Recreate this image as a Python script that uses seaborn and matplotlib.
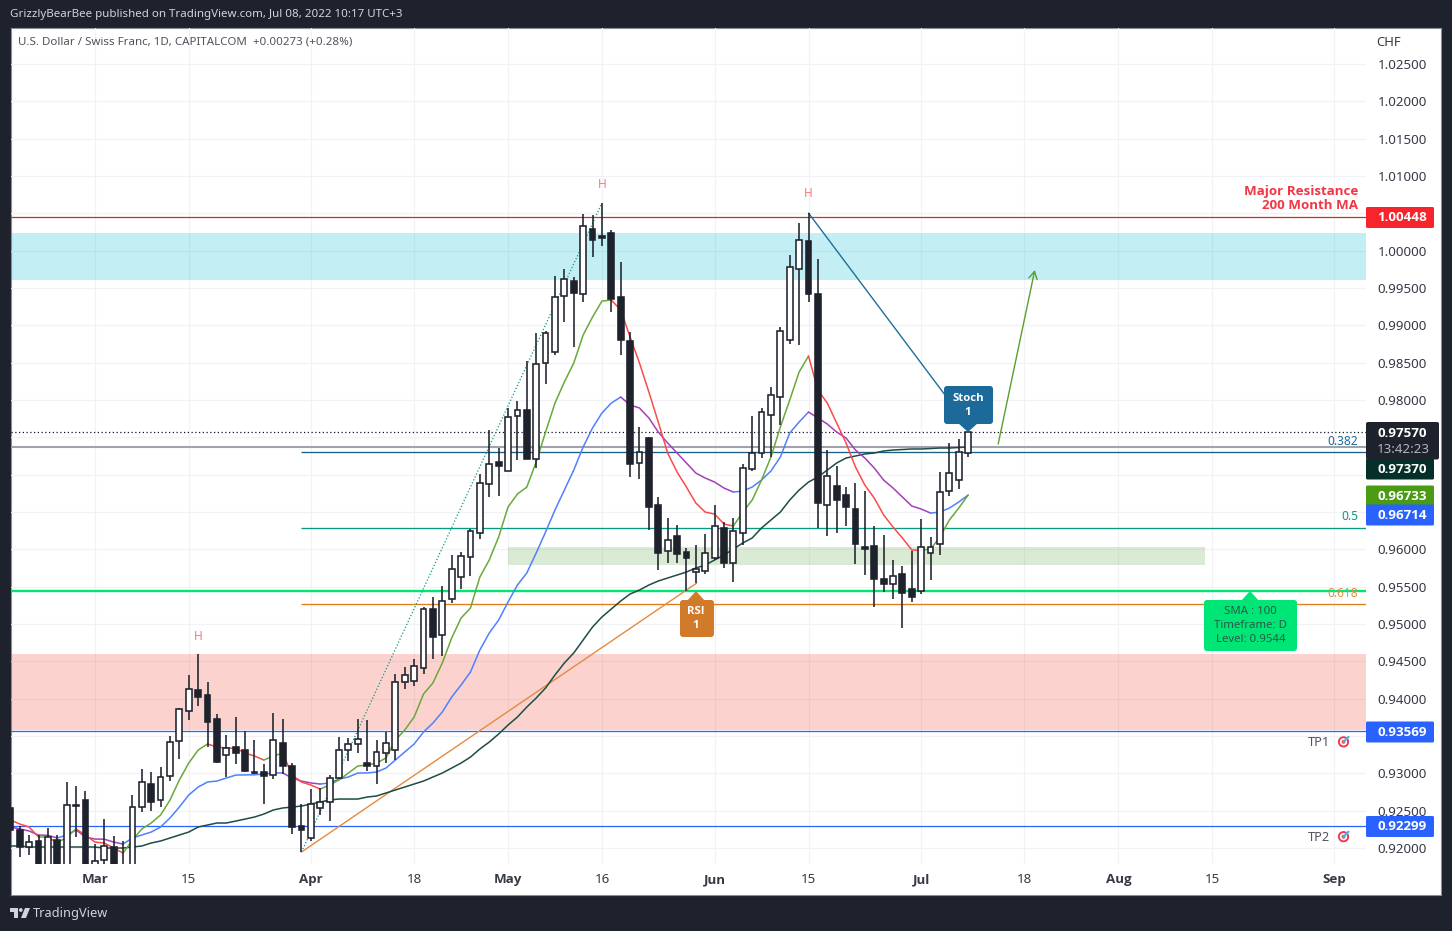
import numpy as np
import pandas as pd
import seaborn as sns
import matplotlib
matplotlib.use("Agg")
import matplotlib.pyplot as plt
from matplotlib import font_manager
from matplotlib.patches import FancyBboxPatch, Polygon, Circle

# ---------- DATA ----------
first_bar = -9
opens = [.92535,.92241,.92009,.92094,.9165,.92107,.9150,.92562,.92643,.9165,.91839,.92013,.9175,.9170,.92545,.92857,.92643,.92964,.93433,.93834,.94116,.94049,.93727,.93241,.93357,.93312,.93024,.93018,.92978,.93406,.93098,.92295,.92134,.92536,.92616,.92937,.93312,.93393,.93138,.93098,.93272,.93312,.94223,.94236,.94411,.95201,.94853,.95331,.95629,.95897,.96219,.96871,.97170,.97045,.97785,.97866,.97210,.98495,.98643,.99393,.99594,.99419,1.00290,1.00196,1.00236,.99379,.98790,.97156,.97491,.96593,.95978,.96178,.95964,.95696,.95709,.95884,.96286,.95817,.96219,.97076,.97290,.97799,.98040,.98803,.99754,1.00130,.99419,.96593,.96848,.96728,.96540,.96031,.96045,.95603,.95531,.95670,.95469,.95442,.95951,.96071,.96781,.96928,.97290]
highs = [.92643,.92295,.92174,.92174,.92268,.92174,.92884,.92830,.92763,.92053,.92388,.92161,.92094,.92710,.93058,.93018,.93085,.93500,.93870,.94317,.94598,.94223,.93795,.93513,.93754,.93567,.93446,.93125,.93808,.93727,.93138,.92589,.92790,.92804,.92977,.93487,.93473,.93727,.93714,.93446,.93553,.94330,.94424,.94531,.95228,.95361,.95509,.95924,.95964,.96272,.97009,.97598,.97357,.97893,.97987,.98522,.98897,.98924,.99661,.99754,.99647,1.00491,1.00478,1.00638,1.00277,.99848,.98911,.97638,.97508,.96701,.96420,.96326,.96018,.96058,.96205,.96594,.96366,.96420,.97143,.97786,.97893,.98178,.98977,.99942,1.00370,1.00504,.99888,.97330,.97120,.96839,.96888,.96781,.96312,.96192,.95857,.95777,.95981,.96406,.96165,.97036,.97424,.97477,.97570]
lows = [.92174,.91883,.91906,.915,.915,.915,.914,.92147,.914,.915,.9165,.915,.915,.915,.92486,.92499,.92553,.92901,.93192,.93714,.93902,.93353,.93142,.92951,.93129,.93018,.92995,.92589,.92924,.92991,.92187,.91946,.92094,.92442,.92361,.92930,.93165,.93272,.93031,.92857,.93138,.93178,.94129,.94169,.94330,.94531,.94571,.95285,.95469,.95643,.96138,.96701,.96714,.97045,.97196,.97214,.97089,.98218,.98607,.99044,.98714,.99312,.99915,1.00066,.99182,.98603,.96969,.96946,.96263,.95727,.95817,.95821,.95446,.95549,.95669,.95857,.95750,.95566,.96058,.97053,.97227,.97241,.97669,.98754,.98741,.99316,.96286,.96183,.96223,.96312,.95807,.95660,.95227,.95432,.95339,.94950,.95298,.95401,.95589,.95924,.96714,.96808,.97236]
closes = [.92241,.92017,.92084,.9165,.92147,.9165,.92576,.92570,.9150,.91830,.92027,.9165,.9170,.92549,.92880,.92620,.92951,.93420,.93861,.94129,.94022,.93691,.93155,.93343,.93276,.93035,.93008,.92964,.93446,.93102,.92281,.92241,.92589,.92616,.92937,.93312,.93393,.93460,.93098,.93285,.93406,.94223,.94317,.94437,.95201,.94826,.95308,.95732,.95911,.96245,.96892,.97147,.97116,.97776,.97866,.97214,.98482,.98897,.99379,.99620,.99437,1.00330,1.00143,1.00173,.99352,.98803,.97146,.97303,.96570,.95955,.96125,.95941,.95888,.95736,.95955,.96317,.95817,.96245,.97089,.97290,.97839,.98067,.98924,.99781,1.00143,.99424,.96624,.96982,.96665,.96571,.96075,.96000,.95607,.95540,.95647,.95419,.95366,.96035,.96035,.96772,.97022,.97303,.97570]
ma_fast = [.92375,.92322,.92281,.92147,.92147,.92067,.92147,.92255,.92174,.92080,.92067,.92000,.91933,.92107,.92255,.92335,.92442,.92643,.92911,.93138,.93312,.93393,.93353,.93339,.93335,.93272,.93232,.93178,.93232,.93272,.92977,.92884,.92844,.92790,.92844,.92911,.93004,.93098,.93111,.93138,.93205,.93446,.93580,.93754,.94062,.94210,.94478,.94812,.95080,.95214,.95629,.95857,.96165,.96567,.96741,.96834,.97170,.97571,.97959,.98241,.98495,.98870,.99111,.99325,.99339,.99205,.98844,.98495,.98107,.97705,.97290,.97036,.96834,.96620,.96499,.96473,.96339,.96312,.96499,.96660,.96928,.97236,.97638,.97999,.98375,.98589,.98134,.97959,.97692,.97424,.97103,.96861,.96687,.96460,.96299,.96152,.95991,.95988,.96004,.96165,.96393,.96553,.96727]
ma_mid = [.92281,.92255,.92228,.92174,.92170,.92134,.92174,.92241,.92147,.92120,.92118,.92080,.92053,.92134,.92174,.92214,.92281,.92402,.92549,.92710,.92817,.92884,.92897,.92937,.92977,.92979,.92981,.92991,.93004,.93006,.92937,.92897,.92871,.92857,.92871,.92924,.92951,.93004,.93006,.93018,.93071,.93178,.93286,.93393,.93553,.93674,.93821,.94022,.94183,.94357,.94652,.94879,.95053,.95294,.95522,.95683,.95951,.96232,.96526,.96794,.97062,.97370,.97625,.97826,.97959,.98040,.97933,.97893,.97759,.97571,.97424,.97290,.97156,.97022,.96955,.96901,.96821,.96767,.96781,.96834,.96928,.97049,.97236,.97558,.97705,.97839,.97759,.97678,.97571,.97491,.97330,.97223,.97089,.96928,.96821,.96701,.96580,.96540,.96486,.96499,.96553,.96634,.96727]
ma_slow = [.92027,.92027,.92013,.92013,.92013,.92013,.92013,.92013,.92013,.92013,.92000,.92000,.92000,.92013,.92027,.92067,.92094,.92134,.92174,.92214,.92281,.92308,.92335,.92335,.92361,.92388,.92415,.92455,.92509,.92536,.92549,.92562,.92589,.92616,.92643,.92656,.92656,.92656,.92683,.92697,.92737,.92777,.92817,.92857,.92897,.92951,.93004,.93071,.93138,.93218,.93326,.93419,.93527,.93647,.93754,.93888,.94009,.94143,.94317,.94478,.94612,.94786,.94960,.95094,.95201,.95308,.95402,.95455,.95522,.95576,.95616,.95656,.95696,.95750,.95790,.95857,.95924,.96004,.96085,.96152,.96286,.96393,.96499,.96660,.96794,.96901,.96969,.97062,.97156,.97223,.97250,.97277,.97290,.97317,.97330,.97337,.97344,.97344,.97350,.97357,.97357,.97364,.97370]

price_ticks = [.92,.925,.93,.935,.94,.945,.95,.955,.96,.965,.97,.975,.98,.985,.99,.995,1.0,1.005,1.01,1.015,1.02,1.025]
price_tick_labels = ["0.92000","0.92500","0.93000","","0.94000","0.94500","0.95000","0.95500","0.96000","","","","0.98000","0.98500","0.99000","0.99500","1.00000","","1.01000","1.01500","1.02000","1.02500"]
date_ticks = [0,10,23,34,44,54,66,76,88,99,109,119,132]
date_labels = ["Mar","15","Apr","18","May","16","Jun","15","Jul","18","Aug","15","Sep"]
month_labels = ["Mar","Apr","May","Jun","Jul","Aug","Sep"]

level_resistance = 1.00448
level_last = 0.97570
level_slow = 0.97370
level_sma = 0.95442
level_tp1 = 0.93569
level_tp2 = 0.92299
fib_levels = [0.97303, 0.96286, 0.95268]
fib_labels = ["0.382", "0.5", "0.618"]
zone_blue = (0.99607, 1.00236)
zone_pink = (0.93580, 0.94598)
zone_green = (0.95790, 0.96031)
head_marks = [(54, 1.00886), (76, 1.00765), (11, 0.94839)]

# ---------- LAYOUT ----------
W, H = 1452, 931
DARK = "#1e222d"
sns.set_theme(style="white", rc={"font.family": "Noto Sans"})

def bold_family():
    for name in ["Open Sans", "Lato", "Roboto", "Liberation Sans", "DejaVu Sans"]:
        for f in font_manager.fontManager.ttflist:
            if f.name == name and f.weight in (600, 700, 800, "bold", "semibold"):
                return name
    return "DejaVu Sans"

BOLD = bold_family()
fig = plt.figure(figsize=(W/100, H/100), dpi=100, facecolor=DARK)

def rect(l, t, r, b):
    return [l/W, 1-b/H, (r-l)/W, (b-t)/H]

bg = fig.add_axes(rect(11, 28, 1441, 895), zorder=0)
bg.set_xticks([]); bg.set_yticks([]); bg.set_facecolor("white")
for s in bg.spines.values():
    s.set_color("#8a8e99"); s.set_linewidth(0.8)

ax = fig.add_axes(rect(11, 28, 1366, 864), zorder=1)
ax.patch.set_alpha(0)
XL = (-8.93, 135.37)
YL = (0.91786, 1.02982)
ax.set_xlim(XL); ax.set_ylim(YL)
for s in ax.spines.values():
    s.set_visible(False)
ax.set_axisbelow(True)
ax.grid(True, color="#f1f2f5", lw=0.9)

# ---------- ZONES ----------
ax.axhspan(*zone_blue, color="#00bcd4", alpha=0.24, lw=0, zorder=1.6)
ax.axhspan(*zone_pink, color="#f44336", alpha=0.235, lw=0, zorder=1.6)
ax.fill_between([44, 118.2], zone_green[0], zone_green[1], color="#6aa84f", alpha=0.24, lw=0, zorder=1.6)

# ---------- LEVELS ----------
ax.axhline(level_resistance, color="#d3282c", lw=0.9, zorder=3)
ax.axhline(level_last, color="#131722", lw=0.9, ls=(0, (1, 2)), zorder=3)
ax.axhline(level_slow, color="#a0a3ab", lw=1.5, zorder=3)
ax.axhline(level_sma, color="#00e676", lw=1.7, zorder=3)
ax.axhline(level_tp1, color="#2962ff", lw=0.9, zorder=3)
ax.axhline(level_tp2, color="#2962ff", lw=0.9, zorder=3)
fib_colors = ["#1c5f86", "#089981", "#e07b1a"]
for lv, c in zip(fib_levels, fib_colors):
    ax.hlines(lv, 22, XL[1], color=c, lw=0.95, zorder=3)

# ---------- TREND LINES ----------
ax.plot([22, 54], [0.91946, 1.00638], color="#089981", lw=0.9, ls=(0, (1, 1.6)), zorder=3)
ax.plot([22, 64.1], [0.91946, 0.95549], color="#e58a3f", lw=1.0, zorder=3)
ax.plot([76, 90.7], [1.00504, 0.98040], color="#1c7099", lw=1.0, zorder=3)
ax.annotate("", xy=(100.1, 0.99741), xytext=(96.2, 0.97411),
            arrowprops=dict(arrowstyle="->,head_length=0.45,head_width=0.25", color="#5a9e2f", lw=1.0, shrinkA=0, shrinkB=0), zorder=3)

# ---------- MOVING AVERAGES ----------
bars = np.arange(first_bar, first_bar + len(closes))

def draw_ma(vals, up, down):
    vals = np.asarray(vals)
    rising = np.diff(vals) >= 0
    start = 0
    for k in range(1, len(rising) + 1):
        if k == len(rising) or rising[k] != rising[start]:
            seg = pd.DataFrame({"bar": bars[start:k+1], "price": vals[start:k+1]})
            sns.lineplot(data=seg, x="bar", y="price", color=up if rising[start] else down,
                         lw=1.1, ax=ax, legend=False, estimator=None, zorder=4)
            start = k

draw_ma(ma_slow, "#1d4d43", "#1d4d43")
draw_ma(ma_mid, "#4f80ff", "#a63fb8")
draw_ma(ma_fast, "#6aa839", "#fb4a4a")

# ---------- CANDLES ----------
o, h, l, c = map(np.asarray, (opens, highs, lows, closes))
up = c >= o
ax.vlines(bars, l, h, color=DARK, lw=1.15, zorder=5)
ax.bar(bars, np.abs(c-o), bottom=np.minimum(o, c), width=0.62,
       color=np.where(up, "white", DARK), edgecolor=DARK, lw=1.15, zorder=6)

# ---------- AXES ----------
ax.set_xlabel(""); ax.set_ylabel("")
ax.set_xlim(XL); ax.set_ylim(YL)
ax.yaxis.tick_right()
ax.set_yticks(price_ticks); ax.set_yticklabels(price_tick_labels)
ax.set_xticks(date_ticks); ax.set_xticklabels(date_labels)
ax.tick_params(axis="y", length=0, pad=8.5, labelsize=9.6, labelcolor="#363a45")
ax.tick_params(axis="x", length=0, pad=6.8, labelsize=9.6, labelcolor="#363a45")
for t in ax.get_xticklabels():
    if t.get_text() in month_labels:
        t.set_fontweight("bold"); t.set_family(BOLD)

# ---------- OVERLAY (pixel space) ----------
ov = fig.add_axes([0, 0, 1, 1], zorder=5)
ov.set_xlim(0, W); ov.set_ylim(H, 0); ov.axis("off"); ov.patch.set_alpha(0)

def px(i, p):
    x, y = ax.transData.transform((i, p))
    return x, H - y

def pxy(p):
    return px(0, p)[1]

def box(l, t, r, b, color, radius=2, z=10):
    ov.add_patch(FancyBboxPatch((l+radius, t+radius), r-l-2*radius, b-t-2*radius,
                                boxstyle=f"round,pad={radius},rounding_size={radius}",
                                fc=color, ec="none", zorder=z))

# header / footer
ov.text(10, 15, "GrizzlyBearBee published on TradingView.com, Jul 08, 2022 10:17 UTC+3",
        color="#d1d4dc", fontsize=8.3, va="center")
ov.text(18, 42.5, "U.S. Dollar / Swiss Franc, 1D, CAPITALCOM  +0.00273 (+0.28%)",
        color="#50535e", fontsize=8.3, va="center")
ov.text(1376, 42.5, "CHF", color="#363a45", fontsize=9.4, va="center")
ov.add_patch(Polygon([(10, 908), (18, 908), (18, 918), (14, 918), (14, 912), (10, 912)], fc="#d1d4dc", ec="none"))
ov.add_patch(Circle((20.8, 910), 1.9, fc="#d1d4dc", ec="none"))
ov.add_patch(Polygon([(25, 908), (30, 908), (26, 918), (21, 918)], fc="#d1d4dc", ec="none"))
ov.text(33, 914, "TradingView", color="#d1d4dc", fontsize=9.2, va="center")

# H marks
for i, p in head_marks:
    x, y = px(i, p)
    ov.text(x, y, "H", color="#f77c80", fontsize=8.6, ha="center", va="center")

# right-hand annotations
ov.text(1358, pxy(level_resistance)-25.5, "Major Resistance", color="#f23645", fontsize=9.6,
        fontweight="bold", family=BOLD, ha="right", va="center")
ov.text(1358, pxy(level_resistance)-11.5, "200 Month MA", color="#f23645", fontsize=9.6,
        fontweight="bold", family=BOLD, ha="right", va="center")
for lab, lv, col in zip(fib_labels, fib_levels, ["#1c6a9a", "#089981", "#e58a3f"]):
    ov.text(1358, pxy(lv)-11, lab, color=col, fontsize=8.6, ha="right", va="center")

def target(x, y):
    ov.add_patch(Circle((x, y), 5.6, fc="#f23645", ec="none", zorder=8))
    ov.add_patch(Circle((x, y), 3.7, fc="white", ec="none", zorder=8))
    ov.add_patch(Circle((x, y), 1.9, fc="#f23645", ec="none", zorder=8))
    ov.plot([x, x+5], [y, y-5], color="#4fb3e8", lw=1.6, zorder=9)

for lab, lv in [("TP1", level_tp1), ("TP2", level_tp2)]:
    y = pxy(lv) + 11
    ov.text(1330, y+0.8, lab, color="#50535e", fontsize=9.2, ha="right", va="center")
    target(1343.5, y)

# callouts
box(944, 386, 993, 424, "#1c6a9a", 3)
ov.add_patch(Polygon([(958, 423), (978, 423), (968, 432)], fc="#1c6a9a", ec="none", zorder=10))
ov.text(968, 398.5, "Stoch", color="white", fontsize=8.2, ha="center", va="center", zorder=11, fontweight="bold", family=BOLD)
ov.text(968, 412.5, "1", color="white", fontsize=8.2, ha="center", va="center", zorder=11, fontweight="bold", family=BOLD)

box(680, 600, 714, 637, "#d17a29", 3)
ov.add_patch(Polygon([(687, 601), (705, 601), (696, 591)], fc="#d17a29", ec="none", zorder=10))
ov.text(696, 611.5, "RSI", color="white", fontsize=8.2, ha="center", va="center", zorder=11, fontweight="bold", family=BOLD)
ov.text(696, 625.5, "1", color="white", fontsize=8.2, ha="center", va="center", zorder=11, fontweight="bold", family=BOLD)

box(1204, 600, 1297, 651, "#00e676", 3)
ov.add_patch(Polygon([(1241, 601), (1259, 601), (1250, 591)], fc="#00e676", ec="none", zorder=10))
for txt, y in [("SMA : 100", 611), ("Timeframe: D", 625), ("Level: 0.9544", 639)]:
    ov.text(1250.5, y, txt, color="#2a5a48", fontsize=8.2, ha="center", va="center", zorder=11)

# price tags
tags = [("1.00448", 217.5, "#f7252b"), ("0.97370", 469, "#05302a"), ("0.96733", 496, "#4a9a14"),
        ("0.96714", 515, "#2962ff"), ("0.93569", 732, "#2962ff"), ("0.92299", 826.5, "#2962ff")]
for txt, yc, col in tags:
    box(1366, yc-10.5, 1434, yc+10.5, col, 1.5)
    ov.text(1402, yc+0.3, txt, color="white", fontsize=9.6, fontweight="bold", family=BOLD, ha="center", va="center", zorder=11)
box(1366, 422, 1439, 459.5, DARK, 2, z=11)
ov.text(1402, 433.5, "0.97570", color="white", fontsize=9.6, fontweight="bold", family=BOLD, ha="center", va="center", zorder=12)
ov.text(1403, 449.5, "13:42:23", color="#b2b5be", fontsize=9.6, ha="center", va="center", zorder=12)

fig.savefig("out.png", dpi=100, facecolor=fig.get_facecolor())
